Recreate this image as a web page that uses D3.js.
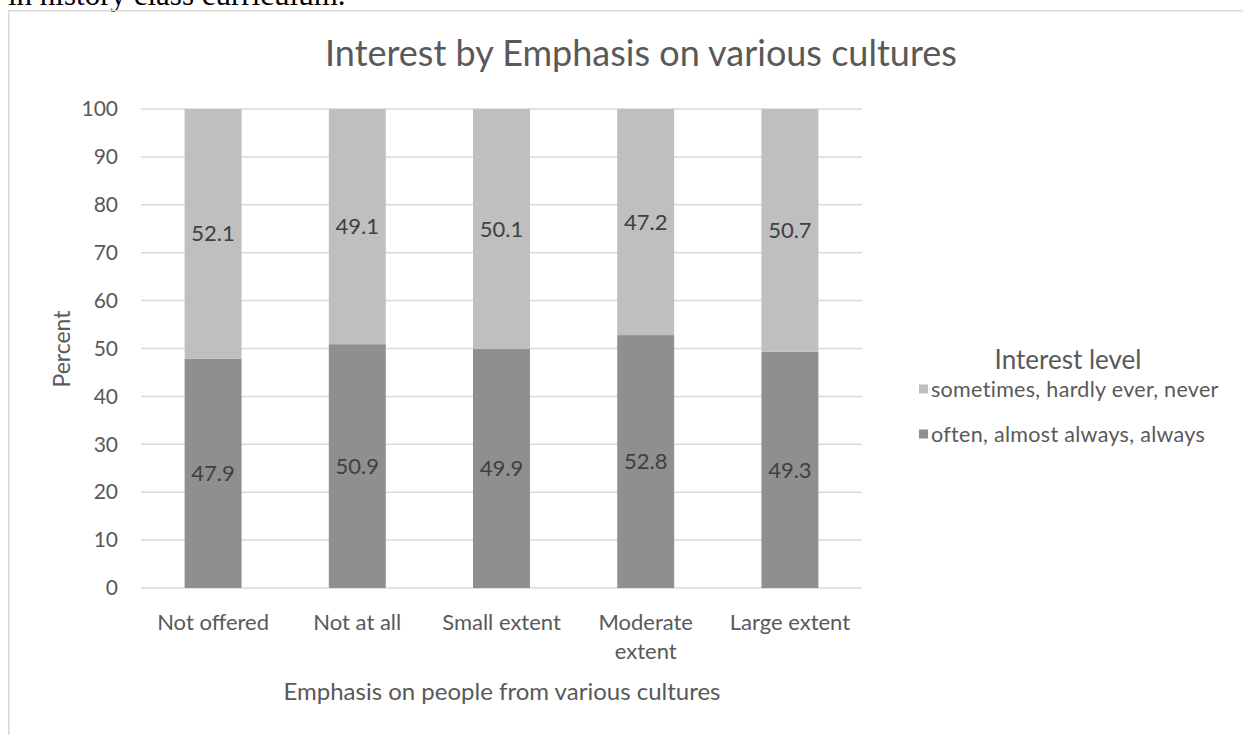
<!DOCTYPE html>
<html>
<head>
<meta charset="utf-8">
<script src="https://cdn.jsdelivr.net/npm/d3@7"></script>
<style>
  html, body { margin: 0; padding: 0; background: #fff; }
  svg { display: block; }
</style>
</head>
<body>
<svg id="chart" width="1243" height="735"></svg>
<script>
// Emphasis categories along the x axis
const categories = ["Not offered", "Not at all", "Small extent", "Moderate extent", "Large extent"];
// Share of students, in percent, for each interest level
const oftenValues = [47.9, 50.9, 49.9, 52.8, 49.3];
const sometimesValues = [52.1, 49.1, 50.1, 47.2, 50.7];
const seriesNames = ["sometimes, hardly ever, never", "often, almost always, always"];
const yTicks = [0, 10, 20, 30, 40, 50, 60, 70, 80, 90, 100];

const textColor = "#595959";
const fontFamily = "Lato, 'Open Sans', sans-serif";
const colors = { often: "#8f8f8f", sometimes: "#bfbfbf" };

const svg = d3.select("#chart");

// Line of body text above the chart box
svg.append("text")
  .attr("x", 8).attr("y", 4.5)
  .attr("font-family", "'Liberation Serif', 'Times New Roman', serif")
  .attr("font-size", 31)
  .attr("fill", "#000")
  .text("in history class curriculum.");

// Chart frame (top and left edges)
svg.append("path")
  .attr("d", "M8.8,735 V10.8 H1243")
  .attr("fill", "none")
  .attr("stroke", "#d9d9d9")
  .attr("stroke-width", 1.6);

const rows = categories.map((c, i) => ({
  category: c,
  often: oftenValues[i],
  sometimes: sometimesValues[i]
}));

const stack = d3.stack().keys(["often", "sometimes"]);
const layers = stack(rows);

const x = d3.scaleBand()
  .domain(categories)
  .range([141, 862])
  .paddingInner(0.605)
  .paddingOuter(0.3025);

const y = d3.scaleLinear().domain([0, 100]).range([588, 109]);

// Horizontal gridlines
svg.append("g")
  .selectAll("line")
  .data(yTicks)
  .join("line")
  .attr("x1", 141).attr("x2", 862)
  .attr("y1", d => y(d)).attr("y2", d => y(d))
  .attr("stroke", "#d9d9d9")
  .attr("stroke-width", 1.5);

// Y axis tick labels
const yAxis = d3.axisLeft(y).tickValues(yTicks).tickSize(0).tickPadding(0);
const yg = svg.append("g")
  .attr("transform", "translate(118,0)")
  .call(yAxis);
yg.select(".domain").remove();
yg.selectAll("text")
  .attr("font-family", fontFamily)
  .attr("font-size", 21)
  .attr("fill", textColor);

// Stacked columns
svg.append("g")
  .selectAll("g")
  .data(layers)
  .join("g")
  .attr("fill", d => colors[d.key])
  .selectAll("rect")
  .data(d => d)
  .join("rect")
  .attr("x", d => x(d.data.category))
  .attr("width", x.bandwidth())
  .attr("y", d => y(d[1]))
  .attr("height", d => y(d[0]) - y(d[1]));

// Value labels centred in each segment
svg.append("g")
  .selectAll("g")
  .data(layers)
  .join("g")
  .selectAll("text")
  .data(d => d.map(p => ({ p, key: d.key })))
  .join("text")
  .attr("x", d => x(d.p.data.category) + x.bandwidth() / 2)
  .attr("y", d => y((d.p[0] + d.p[1]) / 2))
  .attr("dy", "0.35em")
  .attr("text-anchor", "middle")
  .attr("font-family", fontFamily)
  .attr("font-size", 22)
  .attr("fill", "#404040")
  .text(d => d.p.data[d.key].toFixed(1));

// X axis category labels (wrapped to two lines where needed)
const xLabelLines = { "Moderate extent": ["Moderate", "extent"] };
const xl = svg.append("g")
  .selectAll("text")
  .data(categories)
  .join("text")
  .attr("x", d => x(d) + x.bandwidth() / 2)
  .attr("y", 622)
  .attr("text-anchor", "middle")
  .attr("font-family", fontFamily)
  .attr("font-size", 22)
  .attr("fill", textColor);
xl.each(function (d) {
  const lines = xLabelLines[d] || [d];
  const t = d3.select(this);
  lines.forEach((ln, i) => {
    t.append("tspan")
      .attr("x", x(d) + x.bandwidth() / 2)
      .attr("dy", i === 0 ? "0.35em" : "1.32em")
      .text(ln);
  });
});

// Chart title
svg.append("text")
  .attr("x", 325).attr("y", 66)
  .attr("font-family", fontFamily)
  .attr("font-size", 36)
  .attr("fill", textColor)
  .text("Interest by Emphasis on various cultures");

// Axis titles
svg.append("text")
  .attr("transform", "translate(62,349) rotate(-90)")
  .attr("dy", "0.35em")
  .attr("text-anchor", "middle")
  .attr("font-family", fontFamily)
  .attr("font-size", 23)
  .attr("fill", textColor)
  .text("Percent");

svg.append("text")
  .attr("x", 502).attr("y", 692)
  .attr("dy", "0.35em")
  .attr("text-anchor", "middle")
  .attr("font-family", fontFamily)
  .attr("font-size", 24)
  .attr("fill", textColor)
  .text("Emphasis on people from various cultures");

// Legend
const legend = svg.append("g");
legend.append("text")
  .attr("x", 1068).attr("y", 360)
  .attr("dy", "0.35em")
  .attr("text-anchor", "middle")
  .attr("font-family", fontFamily)
  .attr("font-size", 26)
  .attr("fill", textColor)
  .text("Interest level");

const legendKeys = ["sometimes", "often"];
const items = legend.selectAll("g.item")
  .data(legendKeys)
  .join("g")
  .attr("class", "item")
  .attr("transform", (d, i) => `translate(919,${389 + i * 45})`);
items.append("rect")
  .attr("x", 0).attr("y", -4.5)
  .attr("width", 9).attr("height", 9)
  .attr("fill", d => colors[d]);
items.append("text")
  .attr("x", 12).attr("y", 0)
  .attr("dy", "0.35em")
  .attr("font-family", fontFamily)
  .attr("font-size", 21.5)
  .attr("letter-spacing", 0.3)
  .attr("fill", textColor)
  .text((d, i) => seriesNames[i]);
</script>
</body>
</html>
